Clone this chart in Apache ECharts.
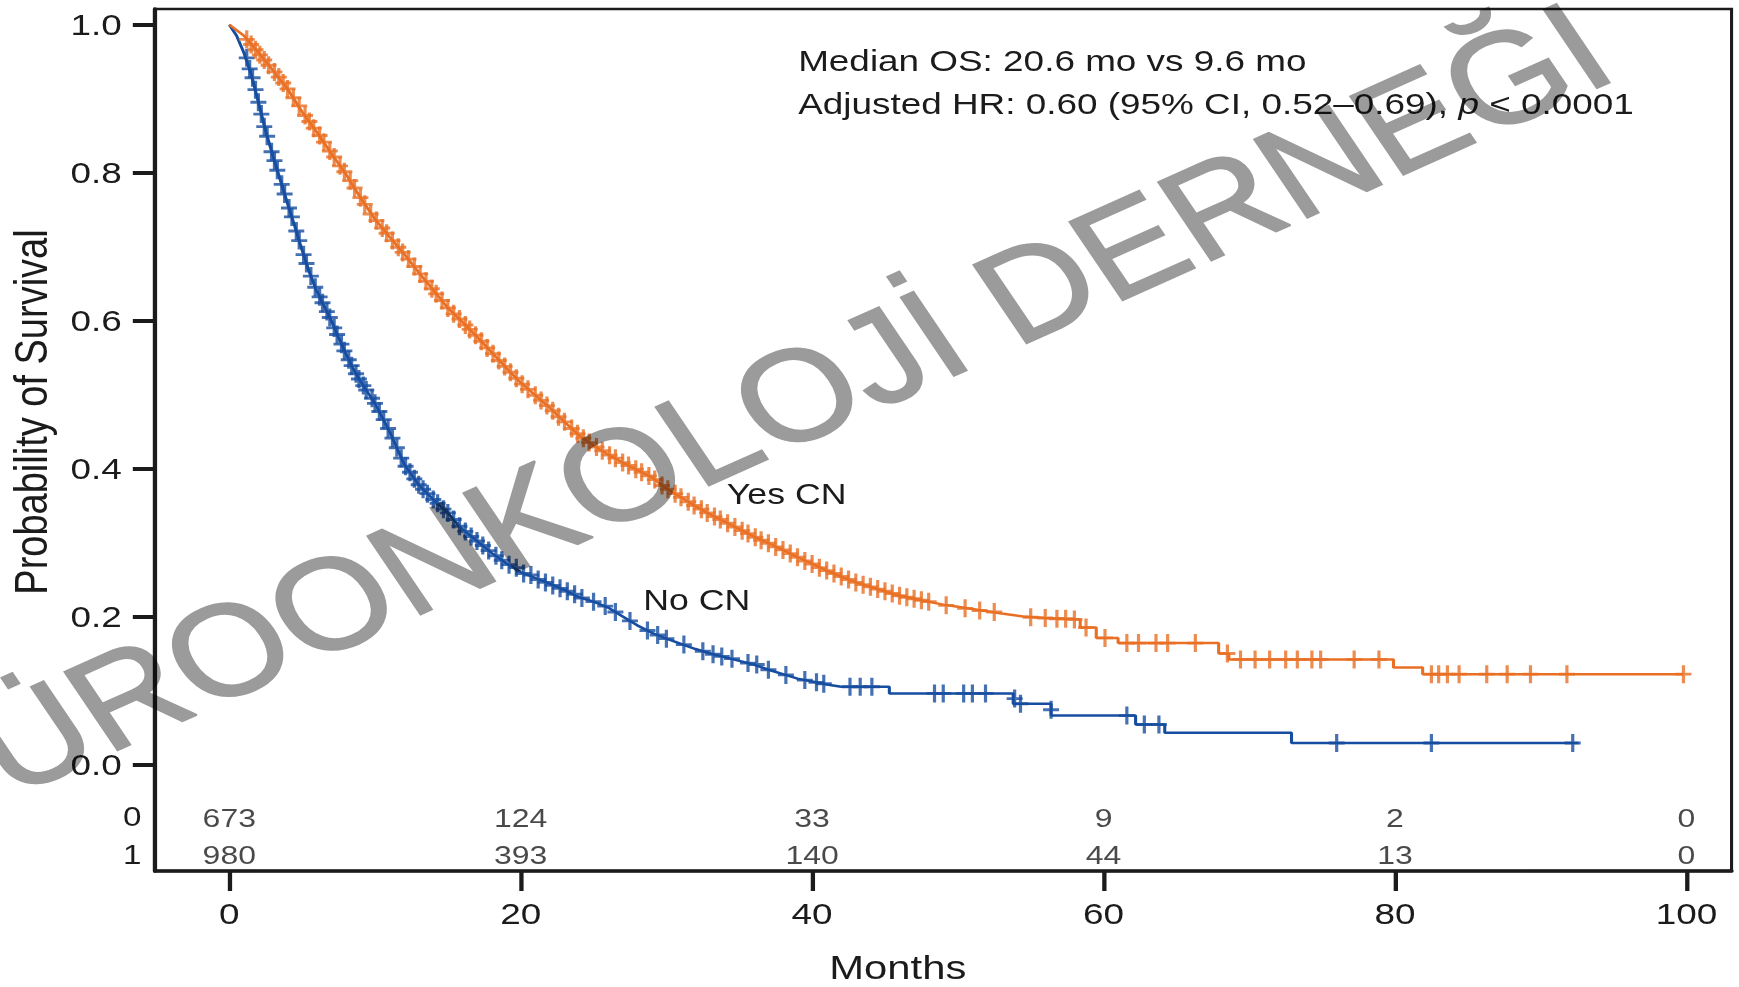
<!DOCTYPE html>
<html>
<head>
<meta charset="utf-8">
<script src="https://cdn.jsdelivr.net/npm/echarts@6/dist/echarts.min.js"></script>
<style>
  html, body { margin: 0; padding: 0; background: #fff; overflow: hidden; }
  /* the source figure is stretched horizontally, so the chart is drawn narrow and widened */
  #main { width: 1414px; height: 987px; transform: scaleX(1.2298); transform-origin: 0 0; }
</style>
</head>
<body>
<div id="main"></div>
<script>
var monthTicks = [0, 20, 40, 60, 80, 100];
var survTicks = [0, 0.2, 0.4, 0.6, 0.8, 1.0];

// numbers at risk, group 0 = No CN, group 1 = Yes CN
var riskNoCN = [673, 124, 33, 9, 2, 0];
var riskYesCN = [980, 393, 140, 44, 13, 0];

// Kaplan-Meier curves [month, survival]
var yesCurve = [
  [0, 1.000], [1, 0.985], [2, 0.962], [3, 0.938], [4, 0.913], [5, 0.882], [6, 0.855], [7, 0.826],
  [8, 0.798], [9, 0.766], [10, 0.737], [11, 0.713], [12, 0.690], [13, 0.665], [14, 0.641], [15, 0.617],
  [16, 0.598], [17, 0.578], [18, 0.557], [19, 0.536], [20, 0.516], [21, 0.499], [22, 0.482], [23, 0.463],
  [24, 0.445], [25, 0.431], [26, 0.419], [27, 0.408], [28, 0.398], [29, 0.388], [30, 0.373], [31, 0.361],
  [32, 0.349], [33, 0.338], [34, 0.328], [35, 0.318], [36, 0.308], [37, 0.299], [38, 0.290], [39, 0.280],
  [40, 0.271], [41, 0.262], [42, 0.254], [43, 0.246], [44, 0.240], [45, 0.234], [46, 0.228], [47, 0.224],
  [48, 0.220], [49, 0.216], [50, 0.213], [51, 0.210], [52, 0.207], [53, 0.204], [54.5, 0.200], [56, 0.198],
  [58.4, 0.196], [58.4, 0.185], [59.5, 0.185], [59.5, 0.171], [61, 0.171], [61, 0.164], [67.9, 0.164],
  [67.9, 0.150], [68.6, 0.150], [68.6, 0.142], [79.9, 0.142], [79.9, 0.131], [81.9, 0.131], [81.9, 0.122],
  [99.8, 0.122]
];
var noCurve = [
  [0, 1.000], [0.5, 0.985], [1, 0.962], [1.5, 0.933], [2, 0.895], [2.5, 0.856], [3, 0.822], [3.5, 0.790],
  [4, 0.758], [4.5, 0.727], [5, 0.695], [5.5, 0.665], [6, 0.640], [6.5, 0.620], [7, 0.600], [7.5, 0.577],
  [8, 0.555], [8.5, 0.535], [9, 0.518], [9.6, 0.500], [10, 0.488], [11, 0.450], [12, 0.406], [13, 0.378],
  [14, 0.358], [15, 0.340], [16, 0.318], [17, 0.302], [18, 0.286], [19, 0.272], [20, 0.260], [21, 0.252],
  [22, 0.244], [23, 0.236], [24, 0.226], [25, 0.220], [26, 0.212], [27, 0.200], [28, 0.188], [29, 0.178],
  [30, 0.170], [31, 0.163], [32, 0.156], [33, 0.150], [34, 0.145], [35, 0.140], [36, 0.135], [37, 0.128],
  [38, 0.122], [39, 0.116], [40, 0.112], [41, 0.108], [42, 0.105], [45.3, 0.105], [45.3, 0.096],
  [53.8, 0.096], [53.8, 0.082], [56.4, 0.082], [56.4, 0.066], [62.2, 0.066], [62.2, 0.054], [64.2, 0.054],
  [64.2, 0.043], [72.9, 0.043], [72.9, 0.029], [92.6, 0.029]
];

// censored observations [month, survival]
var yesCensor = [
  [1.2, 0.980], [1.8, 0.966], [2.4, 0.952], [3.1, 0.936], [3.7, 0.921], [4.4, 0.901], [5.2, 0.877],
  [5.8, 0.860], [6.5, 0.841], [7.2, 0.821], [7.9, 0.801], [8.6, 0.779], [9.3, 0.757], [10.1, 0.735],
  [10.8, 0.718], [11.6, 0.699], [12.3, 0.683], [13.1, 0.663], [13.9, 0.643], [14.6, 0.627], [15.4, 0.609],
  [16.2, 0.594], [16.9, 0.580], [17.7, 0.563], [18.5, 0.546], [19.3, 0.530], [20.1, 0.514], [21.0, 0.499],
  [21.8, 0.485], [22.6, 0.470], [23.5, 0.454], [24.3, 0.441], [25.2, 0.429], [26.1, 0.418], [27.0, 0.408],
  [27.9, 0.399], [28.8, 0.390], [29.7, 0.377], [30.6, 0.366], [31.5, 0.355], [32.4, 0.345], [33.3, 0.335],
  [34.2, 0.326], [35.2, 0.316], [36.1, 0.307], [37.0, 0.299], [38.0, 0.290], [39.0, 0.280], [40.0, 0.271],
  [41.0, 0.262], [42.0, 0.254], [43.0, 0.246], [44.0, 0.240], [45.0, 0.234], [46.0, 0.228], [47.0, 0.224],
  [48.0, 0.220], [49.2, 0.215], [50.5, 0.211], [51.5, 0.208], [52.5, 0.206], [55.0, 0.199], [56.0, 0.198],
  [56.8, 0.197], [57.4, 0.197], [58.0, 0.196], [58.8, 0.185], [60.1, 0.171], [61.6, 0.164], [62.4, 0.164],
  [63.6, 0.164], [64.4, 0.164], [66.3, 0.164], [68.5, 0.150], [69.4, 0.142], [70.4, 0.142], [71.4, 0.142],
  [72.5, 0.142], [73.3, 0.142], [74.3, 0.142], [74.9, 0.142], [77.2, 0.142], [78.9, 0.142], [82.5, 0.122],
  [83.0, 0.122], [83.6, 0.122], [84.4, 0.122], [86.3, 0.122], [87.7, 0.122], [89.3, 0.122], [91.8, 0.122],
  [99.8, 0.122],
  [1.5, 0.973], [2.1, 0.959], [2.7, 0.945], [3.4, 0.929], [4.0, 0.913], [4.8, 0.890], [5.5, 0.869],
  [6.2, 0.850], [6.9, 0.829], [7.6, 0.809], [8.3, 0.789], [9.0, 0.766], [9.7, 0.744], [10.5, 0.725],
  [11.2, 0.708], [11.9, 0.692], [12.7, 0.673], [13.5, 0.653], [14.2, 0.636], [15.0, 0.617], [15.8, 0.602],
  [16.5, 0.588], [17.3, 0.572], [18.1, 0.555], [18.9, 0.538], [19.7, 0.522], [20.5, 0.507], [21.4, 0.492],
  [22.2, 0.478], [23.0, 0.463], [23.9, 0.447], [24.7, 0.435], [25.6, 0.424], [26.5, 0.414], [27.4, 0.404],
  [28.3, 0.395], [29.2, 0.385], [30.1, 0.372], [31.0, 0.361], [31.9, 0.350], [32.8, 0.340], [33.7, 0.331],
  [34.7, 0.321], [35.6, 0.312], [36.5, 0.303], [37.5, 0.294], [38.5, 0.285], [39.5, 0.275], [40.5, 0.266],
  [41.5, 0.258], [42.5, 0.250], [43.5, 0.243], [44.5, 0.237], [45.5, 0.231], [46.5, 0.226], [47.5, 0.222]
];
var noCensor = [
  [1.2, 0.955], [1.6, 0.928], [2.0, 0.895], [2.4, 0.862], [2.9, 0.828], [3.3, 0.803], [3.8, 0.771],
  [4.3, 0.740], [4.8, 0.708], [5.3, 0.677], [5.9, 0.645], [6.4, 0.624], [6.9, 0.604], [7.4, 0.581],
  [7.9, 0.559], [8.4, 0.539], [8.9, 0.521], [9.4, 0.506], [10.0, 0.488], [10.6, 0.466], [11.2, 0.441],
  [11.8, 0.414], [12.4, 0.395], [13.0, 0.378], [13.6, 0.366], [14.3, 0.353], [15.0, 0.340], [15.8, 0.322],
  [16.6, 0.308], [17.4, 0.296], [18.3, 0.282], [19.2, 0.270], [20.2, 0.258], [21.2, 0.250], [22.2, 0.242],
  [23.2, 0.234], [24.2, 0.225], [25.0, 0.220], [25.8, 0.214], [26.5, 0.206], [27.5, 0.194], [28.7, 0.181],
  [30.0, 0.170], [31.2, 0.162], [32.5, 0.153], [34.5, 0.143], [35.6, 0.137], [36.2, 0.135], [37.0, 0.128],
  [39.5, 0.114], [40.3, 0.111], [40.8, 0.109], [42.6, 0.105], [43.3, 0.105], [44.1, 0.105], [48.4, 0.096],
  [49.0, 0.096], [50.4, 0.096], [51.0, 0.096], [51.9, 0.096], [53.9, 0.089], [54.3, 0.082], [56.4, 0.074],
  [61.6, 0.066], [62.8, 0.054], [63.8, 0.054], [76.0, 0.029], [82.5, 0.029], [92.2, 0.029],
  [1.4, 0.940], [1.8, 0.912], [2.2, 0.879], [2.6, 0.849], [3.1, 0.816], [3.6, 0.784], [4.1, 0.752],
  [4.6, 0.721], [5.1, 0.689], [5.6, 0.660], [6.2, 0.632], [6.7, 0.612], [7.2, 0.590], [7.7, 0.568],
  [8.2, 0.547], [8.7, 0.528], [9.2, 0.512], [9.8, 0.495], [10.3, 0.477], [10.9, 0.454], [11.5, 0.428],
  [12.1, 0.403], [12.7, 0.386], [13.3, 0.372], [14.0, 0.358], [14.7, 0.345], [15.4, 0.331], [16.2, 0.315],
  [17.0, 0.302], [17.8, 0.289], [18.7, 0.276], [19.7, 0.266], [20.7, 0.256], [21.7, 0.246], [22.7, 0.238],
  [23.7, 0.230], [29.4, 0.175], [33.2, 0.149], [33.8, 0.146], [38.2, 0.121]
];

var orange = '#E96F24';
var blue = '#164DA0';
var ink = '#1b1b1b';
var font = 'Liberation Sans';
var plus = 'path://M0,4.2L10,4.2L10,5.8L0,5.8Z M4,0L6,0L6,10L4,10Z';
var watermark = '\u00DCROONKOLOJ\u0130 DERNE\u011E\u0130';

// rows of the at-risk table sit inside the frame, below 0.0
var riskRowY = [-0.072, -0.123];
var riskData = [];
for (var i = 0; i < monthTicks.length; i++) {
  riskData.push([monthTicks[i], riskRowY[0], riskNoCN[i]]);
  riskData.push([monthTicks[i], riskRowY[1], riskYesCN[i]]);
}

var chart = echarts.init(document.getElementById('main'), null, { renderer: 'svg' });

var option = {
  animation: false,
  backgroundColor: '#fff',
  grid: {
    left: 126, right: 6, top: 9, bottom: 116,
    show: true, borderColor: ink, borderWidth: 2.5
  },
  xAxis: {
    type: 'value', min: -5.1, max: 103.1,
    splitLine: { show: false },
    axisLine: { onZero: false, lineStyle: { color: ink, width: 3.5 } },
    axisTick: { customValues: monthTicks, length: 20, lineStyle: { color: ink, width: 3.5 } },
    axisLabel: {
      customValues: monthTicks, margin: 28,
      color: ink, fontFamily: font, fontSize: 30
    }
  },
  yAxis: {
    type: 'value', min: -0.144, max: 1.021,
    splitLine: { show: false },
    axisLine: { onZero: false, lineStyle: { color: ink, width: 3.5 } },
    axisTick: { customValues: survTicks, length: 18, lineStyle: { color: ink, width: 4 } },
    axisLabel: {
      customValues: survTicks, margin: 27,
      color: ink, fontFamily: font, fontSize: 30,
      formatter: function (v) { return v.toFixed(1); }
    }
  },
  series: [
    {
      name: 'No CN', type: 'line', data: noCurve, showSymbol: false, z: 2,
      lineStyle: { color: blue, width: 2.5 }
    },
    {
      name: 'No CN censored', type: 'scatter', data: noCensor, z: 3,
      symbol: plus, symbolSize: [13, 18], itemStyle: { color: blue }
    },
    {
      name: 'Yes CN', type: 'line', data: yesCurve, showSymbol: false, z: 4,
      lineStyle: { color: orange, width: 2.5 }
    },
    {
      name: 'Yes CN censored', type: 'scatter', data: yesCensor, z: 5,
      symbol: plus, symbolSize: [13, 18], itemStyle: { color: orange }
    },
    {
      name: 'At risk', type: 'scatter', data: riskData, symbolSize: 0, z: 6,
      label: {
        show: true, position: 'inside', color: ink, fontFamily: font, fontSize: 26,
        formatter: function (p) { return String(p.value[2]); }
      }
    }
  ],
  graphic: [
    {
      type: 'text', x: 649, y: 61,
      style: { text: 'Median OS: 20.6 mo vs 9.6 mo', fill: ink, fontFamily: font, fontSize: 30, verticalAlign: 'middle' }
    },
    {
      type: 'text', x: 649, y: 104,
      style: {
        text: '{a|Adjusted HR: 0.60 (95% CI, 0.52\u20130.69), }{i|p}{a| < 0.0001}',
        verticalAlign: 'middle',
        rich: {
          a: { fill: ink, fontFamily: font, fontSize: 30 },
          i: { fill: ink, fontFamily: font, fontSize: 30, fontStyle: 'italic' }
        }
      }
    },
    {
      type: 'text', x: 591, y: 494,
      style: { text: 'Yes CN', fill: ink, fontFamily: font, fontSize: 29, verticalAlign: 'middle' }
    },
    {
      type: 'text', x: 523, y: 600,
      style: { text: 'No CN', fill: ink, fontFamily: font, fontSize: 29, verticalAlign: 'middle' }
    },
    {
      type: 'text', x: 115, y: 817,
      style: { text: '0', fill: ink, fontFamily: font, fontSize: 27, align: 'right', verticalAlign: 'middle' }
    },
    {
      type: 'text', x: 115, y: 855,
      style: { text: '1', fill: ink, fontFamily: font, fontSize: 27, align: 'right', verticalAlign: 'middle' }
    },
    {
      type: 'text', x: 730, y: 967,
      style: { text: 'Months', fill: ink, fontFamily: font, fontSize: 34, align: 'center', verticalAlign: 'middle' }
    },
    {
      type: 'text', x: 25, y: 412, rotation: Math.PI / 2,
      style: { text: 'Probability of Survival', fill: ink, fontFamily: font, fontSize: 38, align: 'center', verticalAlign: 'middle' }
    },
    {
      // watermark laid over the plot
      type: 'text', x: 642, y: 398, rotation: 28.84 * Math.PI / 180, scaleX: 0.95, z: 100, silent: true,
      style: {
        text: watermark, fill: '#9b9b9b', stroke: '#9b9b9b', lineWidth: 2,
        fontFamily: font, fontSize: 130, align: 'center', verticalAlign: 'middle'
      }
    }
  ]
};

chart.setOption(option);

// the watermark darkens what lies under it instead of hiding it
document.querySelectorAll('#main text').forEach(function (t) {
  if (t.textContent === watermark) t.style.mixBlendMode = 'multiply';
});
</script>
</body>
</html>
